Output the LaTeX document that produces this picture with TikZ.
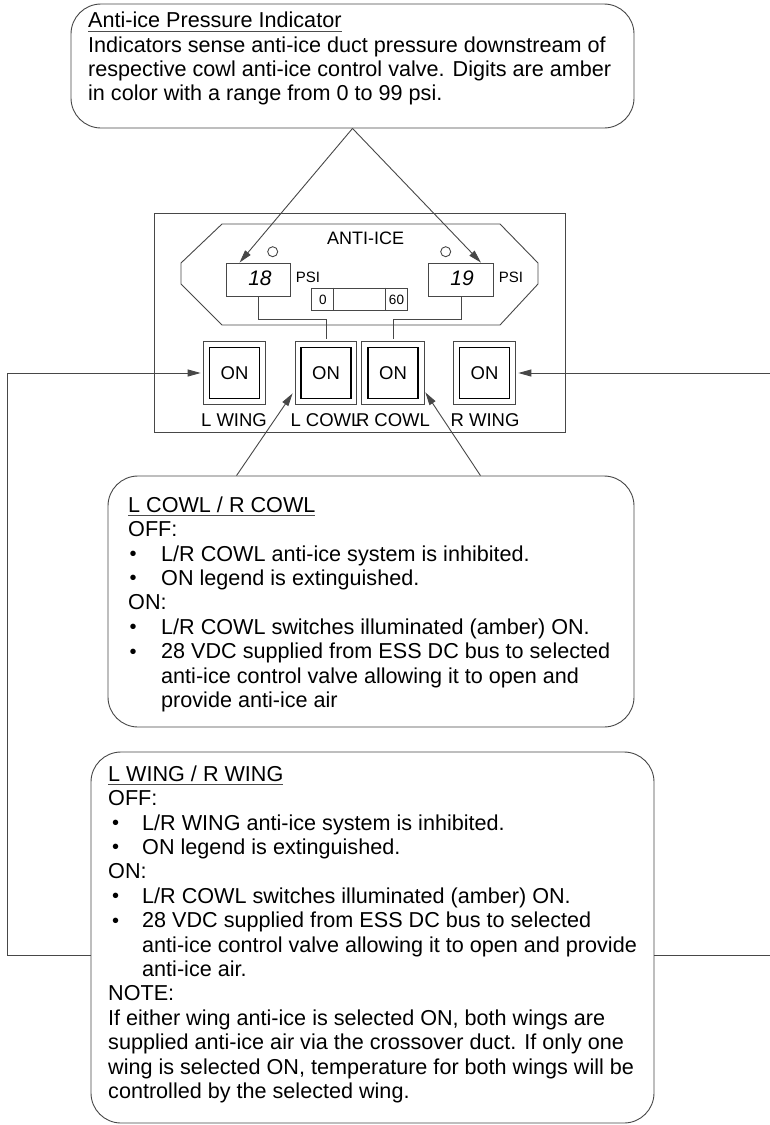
\documentclass[tikz,border=0pt]{standalone}
\usepackage{fontspec}
\setmainfont{Liberation Sans}
\usetikzlibrary{arrows.meta,calc}
\newcommand\myul[1]{\setbox0\hbox{#1}\rlap{\color{black!70}\rule[-4pt]{\wd0}{0.9pt}}\box0}
\newcommand\mydot{\raisebox{0.6pt}{\fontsize{20}{20}\selectfont •}}
\newcommand\cbul{\makebox[33pt][l]{\hspace*{1.5pt}\mydot}}
\newcommand\cind{\hspace*{33pt}}
\newcommand\wbul{\makebox[34pt][l]{\hspace*{4pt}\mydot}}
\newcommand\wind{\hspace*{34pt}}
\tikzset{
  x=1pt,y=-1pt,
  ln/.style={draw=black!72,line width=0.9pt},
  arr/.style={ln,-{Triangle[length=13pt,width=7pt]}},
  callout/.style={ln,rounded corners=30pt,inner sep=0pt},
  txt/.style={inner sep=0pt,align=left,anchor=north west,font=\fontsize{21.6}{24.4}\selectfont},
  sw/.style={draw=black!72,line width=0.8pt,double,double distance=1.8pt,minimum width=64.3pt,minimum height=65.3pt,inner sep=0pt,outer sep=1.7pt},
  swon/.style={draw=black,line width=1.2pt,minimum width=50pt,minimum height=51pt,inner sep=0pt,font=\fontsize{18.5}{18.5}\selectfont},
  swlab/.style={inner sep=0pt,font=\fontsize{18.5}{18.5}\selectfont},
  disp/.style={ln,minimum height=33pt,inner sep=0pt},
  dig/.style={inner sep=0pt,font=\fontsize{21}{21}\selectfont\itshape},
  small/.style={inner sep=0pt,font=\fontsize{15}{15}\selectfont},
}
\begin{document}
\begin{tikzpicture}
\useasboundingbox (0,0) rectangle (770,1125);
\clip (0,0) rectangle (770,1125);
\fill[white] (0,0) rectangle (770,1125);

% ---------- top callout ----------
\node[callout,minimum width=563pt,minimum height=124pt] (pbox) at (352.5,66) {};
\node[txt] (ptext) at (88,11.5) {\rule{0pt}{16pt}\myul{Anti-ice Pressure Indicator}\\
Indicators sense anti-ice duct pressure downstream of\\
respective cowl anti-ice control valve. Digits are amber\\
in color with a range from 0 to 99 psi.};

% ---------- panel ----------
\node[ln,minimum width=411pt,minimum height=219pt,inner sep=0pt] (panel) at (359.5,322.5) {};
\draw[ln] (222,224) -- (500,224) -- (538,263) -- (538,284) -- (500,325) -- (222,325) -- (181,284) -- (181,263) -- cycle;
\node[inner sep=0pt,font=\fontsize{18}{18}\selectfont] (title) at (365.5,238) {ANTI-ICE};
\node[ln,circle,minimum size=10pt,inner sep=0pt] (llamp) at (272.7,251.7) {};
\node[ln,circle,minimum size=10pt,inner sep=0pt] (rlamp) at (445.7,251.7) {};

\node[disp,minimum width=64pt] (ldisp) at (258,279.5) {};
\node[disp,minimum width=65pt] (rdisp) at (461,279.5) {};
\node[dig] (ldig) at (260,278) {18};
\node[dig] (rdig) at (462,278) {19};
\node[small] (lpsi) at (308,277) {PSI};
\node[small] (rpsi) at (511,277) {PSI};

\node[ln,minimum width=96pt,minimum height=22pt,inner sep=0pt] (gauge) at (359,299) {};
\draw[ln] ([xshift=23pt]gauge.north west) -- ([xshift=23pt]gauge.south west);
\draw[ln] ([xshift=-22pt]gauge.north east) -- ([xshift=-22pt]gauge.south east);
\node[inner sep=0pt,font=\fontsize{13.5}{13.5}\selectfont] (gzero) at (323,299.5) {0};
\node[inner sep=0pt,font=\fontsize{13.5}{13.5}\selectfont] (gsixty) at (396.5,299.5) {60};

% switches
\node[sw] (lwing) at (234.5,373) {};
\node[sw,minimum width=63.3pt] (lcowl) at (326,373) {};
\node[sw,minimum width=65.3pt] (rcowl) at (393,373) {};
\node[sw] (rwing) at (484.5,373) {};
\node[swon] (lwingon) at (234.5,373) {ON};
\node[swon] (lcowlon) at (326,373) {ON};
\node[swon] (rcowlon) at (393,373) {ON};
\node[swon] (rwingon) at (484.5,373) {ON};
\node[swlab] (lwinglab) at (234,420) {L WING};
\node[swlab] (lcowllab) at (326,420) {L COWL};
\node[swlab] (rcowllab) at (393,420) {R COWL};
\node[swlab] (rwinglab) at (485,420) {R WING};

\draw[ln] (ldisp.south) -- ++(0,23) -| (lcowl.north);
\draw[ln] (rdisp.south) -- ++(0,23) -| (rcowl.north);

% top callout arrows
\draw[arr] (pbox.south) -- ([xshift=14pt]ldisp.north west);
\draw[arr] (pbox.south) -- ([xshift=-13pt]rdisp.north east);

% ---------- cowl callout ----------
\node[callout,minimum width=526pt,minimum height=251pt] (cbox) at (371,601.5) {};
\node[txt] (ctext) at (128,496) {\rule{0pt}{16pt}\myul{L COWL / R COWL}\\
OFF:\\
\cbul L/R COWL anti-ice system is inhibited.\\
\cbul ON legend is extinguished.\\
ON:\\
\cbul L/R COWL switches illuminated (amber) ON.\\
\cbul 28 VDC supplied from ESS DC bus to selected\\
\cind anti-ice control valve allowing it to open and\\
\cind provide anti-ice air};
\draw[arr] ([xshift=129pt]cbox.north west) -- ([yshift=14pt]lcowl.south west);
\draw[arr] ([xshift=-154pt]cbox.north east) -- ([yshift=15pt,xshift=-2pt]rcowl.south east);

% ---------- wing callout ----------
\node[callout,minimum width=563pt,minimum height=371pt] (wbox) at (372.5,937.5) {};
\node[txt] (wtext) at (108,765) {\rule{0pt}{16pt}\myul{L WING / R WING}\\
OFF:\\
\wbul L/R WING anti-ice system is inhibited.\\
\wbul ON legend is extinguished.\\
ON:\\
\wbul L/R COWL switches illuminated (amber) ON.\\
\wbul 28 VDC supplied from ESS DC bus to selected\\
\wind anti-ice control valve allowing it to open and provide\\
\wind anti-ice air.\\
NOTE:\\
If either wing anti-ice is selected ON, both wings are\\
supplied anti-ice air via the crossover duct. If only one\\
wing is selected ON, temperature for both wings will be\\
controlled by the selected wing.};

\coordinate (ledge) at (7,955);
\coordinate (redge) at (773,955);
\draw[arr] ([yshift=-17.5pt]wbox.west) -- (ledge) |- (lwing.west);
\draw[arr] ([yshift=-17.5pt]wbox.east) -- (redge) |- (rwing.east);
\end{tikzpicture}
\end{document}
